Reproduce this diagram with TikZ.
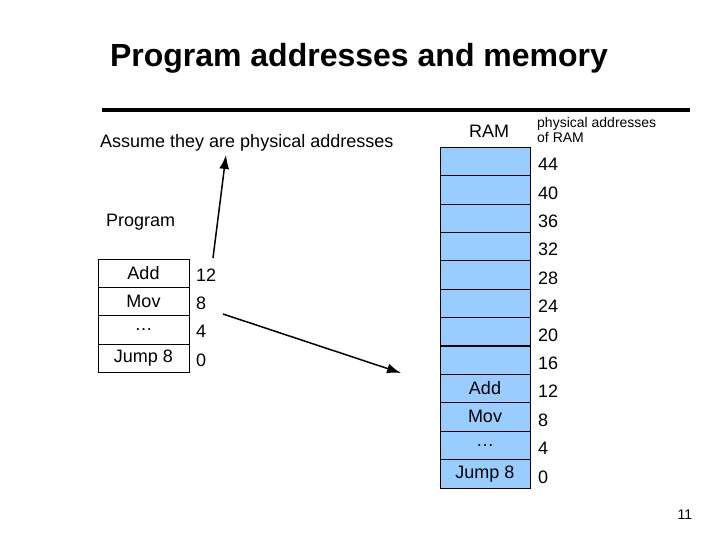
\documentclass[tikz,border=0pt]{standalone}
\usepackage{fontspec}
\setmainfont{Liberation Sans}
\usetikzlibrary{arrows.meta}
\begin{document}
\begin{tikzpicture}[x=1pt,y=-1pt,
  txt/.style={inner sep=0pt,font=\fontsize{18}{20}\selectfont},
  ramcell/.style={draw,fill=ramblue,minimum width=90pt,minimum height=28.4pt,inner sep=0pt,font=\fontsize{18}{20}\selectfont},
  pcell/.style={draw,minimum width=91pt,minimum height=28.3pt,inner sep=0pt,font=\fontsize{18}{20}\selectfont},
  arr/.style={-{Latex[length=14pt,width=10pt]},line width=1.5pt}]
\definecolor{ramblue}{RGB}{153,204,255}
\useasboundingbox (0,0) rectangle (720,540);
\node[inner sep=0pt,font=\bfseries\fontsize{32}{36}\selectfont] (title) at (359,58) {Program addresses and memory};
\draw[line width=4pt] (102,110) -- (690,110);
\node[txt,anchor=west] (assume) at (100,143) {Assume they are physical addresses};
\node[txt] (ram) at (489,131) {RAM};
\node[inner sep=0pt,anchor=west,align=left,font=\fontsize{14}{15}\selectfont] (phys) at (537,130) {physical addresses\\of RAM};
\node[txt,anchor=west] (prog) at (106,222) {Program};
% RAM column
\foreach \i/\t/\a in {0//44,1//40,2//36,3//32,4//28,5//24,6//20,7//16,8/Add/12,9/Mov/8,10/\ldots/4,11/Jump 8/0}{
  \node[ramcell] (r\i) at (485,{161.2+28.4*\i}) {\t};
  \node[txt,anchor=west] (ra\i) at (538,{164.5+28.4*\i}) {\a};
}
\draw[line width=1.5pt] (r6.south west) -- (r6.south east);
\draw[line width=1.5pt] (r7.south west) -- (r7.south east);
% program table
\foreach \i/\t/\a in {0/Add/12,1/Mov/8,2/\ldots/4,3/Jump 8/0}{
  \node[pcell] (p\i) at (143.5,{273.2+28.3*\i}) {\t};
  \node[txt,anchor=west] (pa\i) at (196,{275+28.3*\i}) {\a};
}
\coordinate (a1s) at (213,258);
\coordinate (a1e) at (226,155);
\coordinate (a2s) at (223,314);
\coordinate (a2e) at (401,373);
\draw[arr] (a1s) -- (a1e);
\draw[arr] (a2s) -- (a2e);
\node[inner sep=0pt,font=\fontsize{14}{15}\selectfont] (pg) at (685,515) {11};
\end{tikzpicture}
\end{document}
